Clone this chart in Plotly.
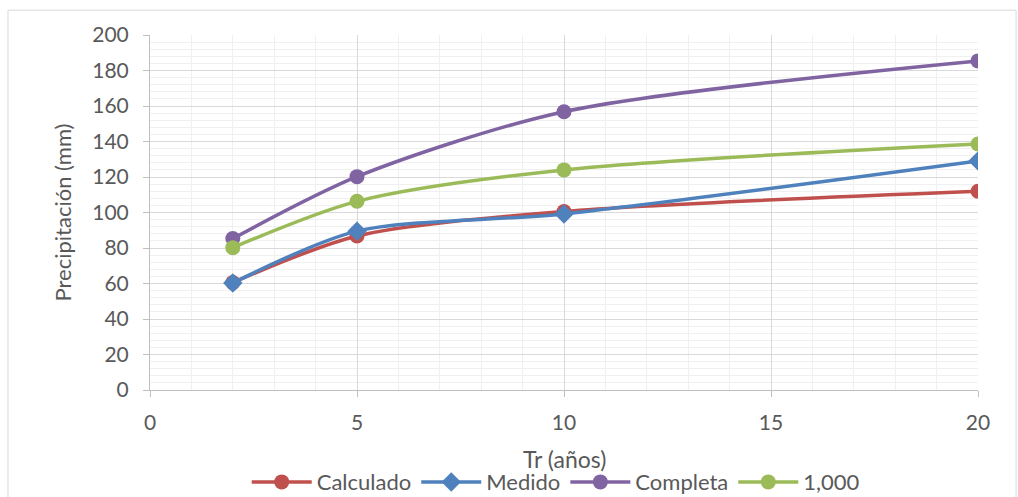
import plotly.graph_objects as go

# Return periods (years)
tr = [2, 5, 10, 20]

# Precipitation series (mm)
calculado = [60.5, 86.8, 100.6, 112.0]
medido = [60.3, 89.5, 99.2, 129.0]
completa = [85.3, 120.2, 156.8, 185.4]
mil = [80.2, 106.3, 124.0, 138.6]

series = [
    ("Calculado", calculado, "#C0504D", "circle", 15),
    ("Medido", medido, "#4F81BD", "diamond", 15),
    ("Completa", completa, "#8064A2", "circle", 15),
    ("1,000", mil, "#9BBB59", "circle", 15),
]

FONT = "Lato, Carlito, sans-serif"
TXT = "#595959"

fig = go.Figure()
for name, vals, color, sym, size in series:
    fig.add_trace(go.Scatter(
        x=tr, y=vals, name=name, mode="lines+markers",
        line=dict(color=color, width=3.5, shape="spline", smoothing=0.8),
        marker=dict(color=color, symbol=sym, size=size),
    ))

fig.update_layout(
    width=1018, height=497,
    margin=dict(l=150, r=40, t=35, b=107),
    paper_bgcolor="white", plot_bgcolor="white",
    font=dict(family=FONT, color=TXT, size=21),
    showlegend=True,
    legend=dict(orientation="h", x=0.49, xanchor="center",
                yref="container", y=0.03, yanchor="middle",
                font=dict(size=22, color=TXT), tracegroupgap=0,
                itemwidth=60, bgcolor="rgba(0,0,0,0)"),
    shapes=[dict(type="rect", xref="paper", yref="paper",
                 x0=-0.1715, x1=1.046, y0=-0.4, y1=1.07,
                 line=dict(color="#D9D9D9", width=1), layer="below")],
    annotations=[dict(text="Tr (años)", xref="paper", yref="paper",
                      x=0.5, y=-0.195, xanchor="center", yanchor="middle",
                      showarrow=False, font=dict(size=23, color=TXT))],
)

fig.update_xaxes(
    range=[0, 20], tickvals=[0, 5, 10, 15, 20], automargin=False,
    showgrid=True, gridcolor="#D9D9D9", gridwidth=1,
    minor=dict(dtick=1, tick0=0, showgrid=True, gridcolor="#F0F0F0", gridwidth=1),
    showline=True, linecolor="#BFBFBF", linewidth=1,
    ticks="outside", ticklen=6, tickcolor="#BFBFBF", ticklabelstandoff=8,
    zeroline=False, tickfont=dict(size=21, color=TXT),
)
fig.update_yaxes(
    range=[0, 200], dtick=20, automargin=False,
    showgrid=True, gridcolor="#D9D9D9", gridwidth=1,
    minor=dict(dtick=4, tick0=0, showgrid=True, gridcolor="#F0F0F0", gridwidth=1),
    showline=True, linecolor="#BFBFBF", linewidth=1,
    ticks="outside", ticklen=6, tickcolor="#BFBFBF", ticklabelstandoff=10,
    zeroline=False, tickfont=dict(size=21, color=TXT),
    title=dict(text="Precipitación (mm)", font=dict(size=22, color=TXT), standoff=14),
)

fig.write_html("out.html")
